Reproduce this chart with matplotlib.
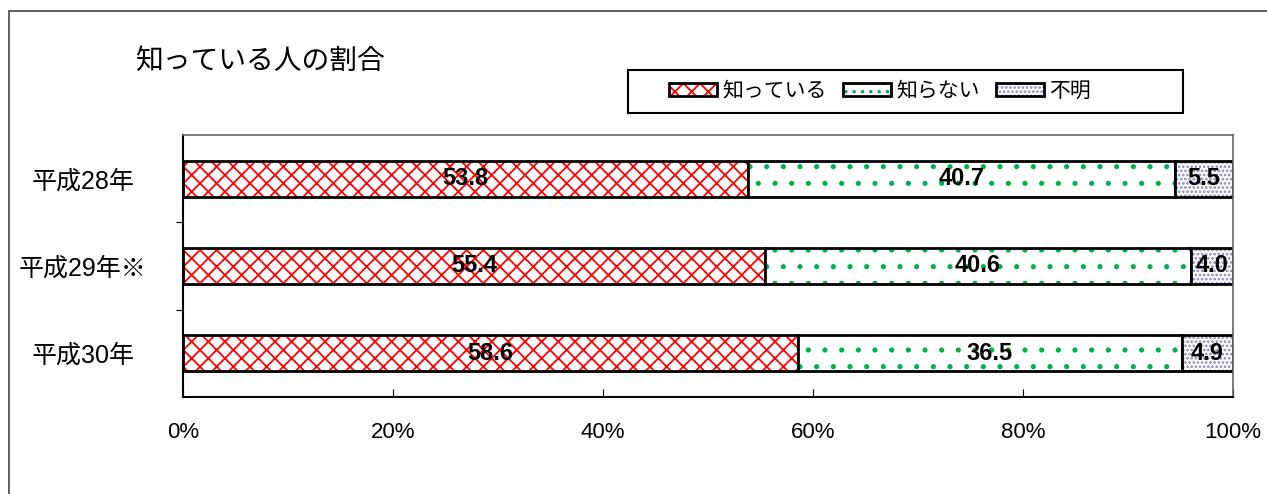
import matplotlib
matplotlib.use("Agg")
import matplotlib.pyplot as plt
from matplotlib.patches import Rectangle, Patch

plt.rcParams['font.family'] = ['Liberation Sans', 'Noto Sans CJK JP']
plt.rcParams['hatch.linewidth'] = 1.3

# data
years = ["平成28年", "平成29年※", "平成30年"]
series = ["知っている", "知らない", "不明"]
know = [53.8, 55.4, 58.6]
dont_know = [40.7, 40.6, 36.5]
unknown = [5.5, 4.0, 4.9]
xticks = [0, 20, 40, 60, 80, 100]

values = [know, dont_know, unknown]
hatch_colors = ["#ff0000", "#00b050", "#8c84b8"]
hatches = ["xx", ".", "...."]
legend_hatches = ["xx", "..", "...."]

fig = plt.figure(figsize=(12.67, 4.94), dpi=100)
ax = fig.add_axes([0.1444, 0.1964, 0.8288, 0.5303])

ypos = list(range(len(years)))
left = [0, 0, 0]
for vals, hc, h in zip(values, hatch_colors, hatches):
    # hatch layer
    ax.barh(ypos, vals, left=left, height=0.41, color="white",
            edgecolor=hc, hatch=h, linewidth=0)
    # outline layer
    ax.barh(ypos, vals, left=left, height=0.41, fill=False,
            edgecolor="black", linewidth=2)
    for y, v, l in zip(ypos, vals, left):
        ax.text(l + v / 2, y, f"{v:.1f}", ha="center", va="center",
                fontsize=17, fontweight="bold", color="black")
    left = [a + b for a, b in zip(left, vals)]

ax.set_xlim(0, 100)
ax.set_ylim(2.5, -0.5)
ax.set_xticks(xticks)
ax.set_xticklabels([f"{t}%" for t in xticks], fontsize=16)
ax.tick_params(axis="x", direction="in", length=6, pad=18)
ax.set_yticks([0.5, 1.5])
ax.set_yticks(ypos, minor=True)
ax.set_yticklabels([], minor=False)
ax.set_yticklabels(years, minor=True, fontsize=18, ha="center")
ax.tick_params(axis="y", which="major", direction="out", length=5)
ax.tick_params(axis="y", which="minor", length=0, pad=72)
for s in ["top", "right"]:
    ax.spines[s].set_color("#666666")
    ax.spines[s].set_linewidth(1.2)
for s in ["left", "bottom"]:
    ax.spines[s].set_color("black")
    ax.spines[s].set_linewidth(1.5)

fig.text(135 / 1267, 1 - 62 / 494, "知っている人の割合", fontsize=20,
         va="center", ha="left")

# legend: hatched patch with black outline on top
handles = [(Patch(facecolor="white", edgecolor=hc, hatch=h, linewidth=0),
            Patch(fill=False, edgecolor="black", linewidth=2))
           for hc, h in zip(hatch_colors, legend_hatches)]
leg = fig.legend(handles, series, ncol=3, loc="center",
                 bbox_to_anchor=(880 / 1267, 1 - 91 / 494),
                 fontsize=15, frameon=False,
                 handlelength=2.3, handleheight=0.6, handletextpad=0.25,
                 columnspacing=0.8)
fig.patches.append(Rectangle((628 / 1267, 1 - 113 / 494), 555 / 1267, 43 / 494,
                             transform=fig.transFigure, fill=False,
                             edgecolor="black", linewidth=1.5))

fig.patches.append(Rectangle((9 / 1267, -0.1), 1.2, 1 - 11 / 494 + 0.1,
                             transform=fig.transFigure, fill=False,
                             edgecolor="#444444", linewidth=1.2))

fig.savefig("out.png", dpi=100)
